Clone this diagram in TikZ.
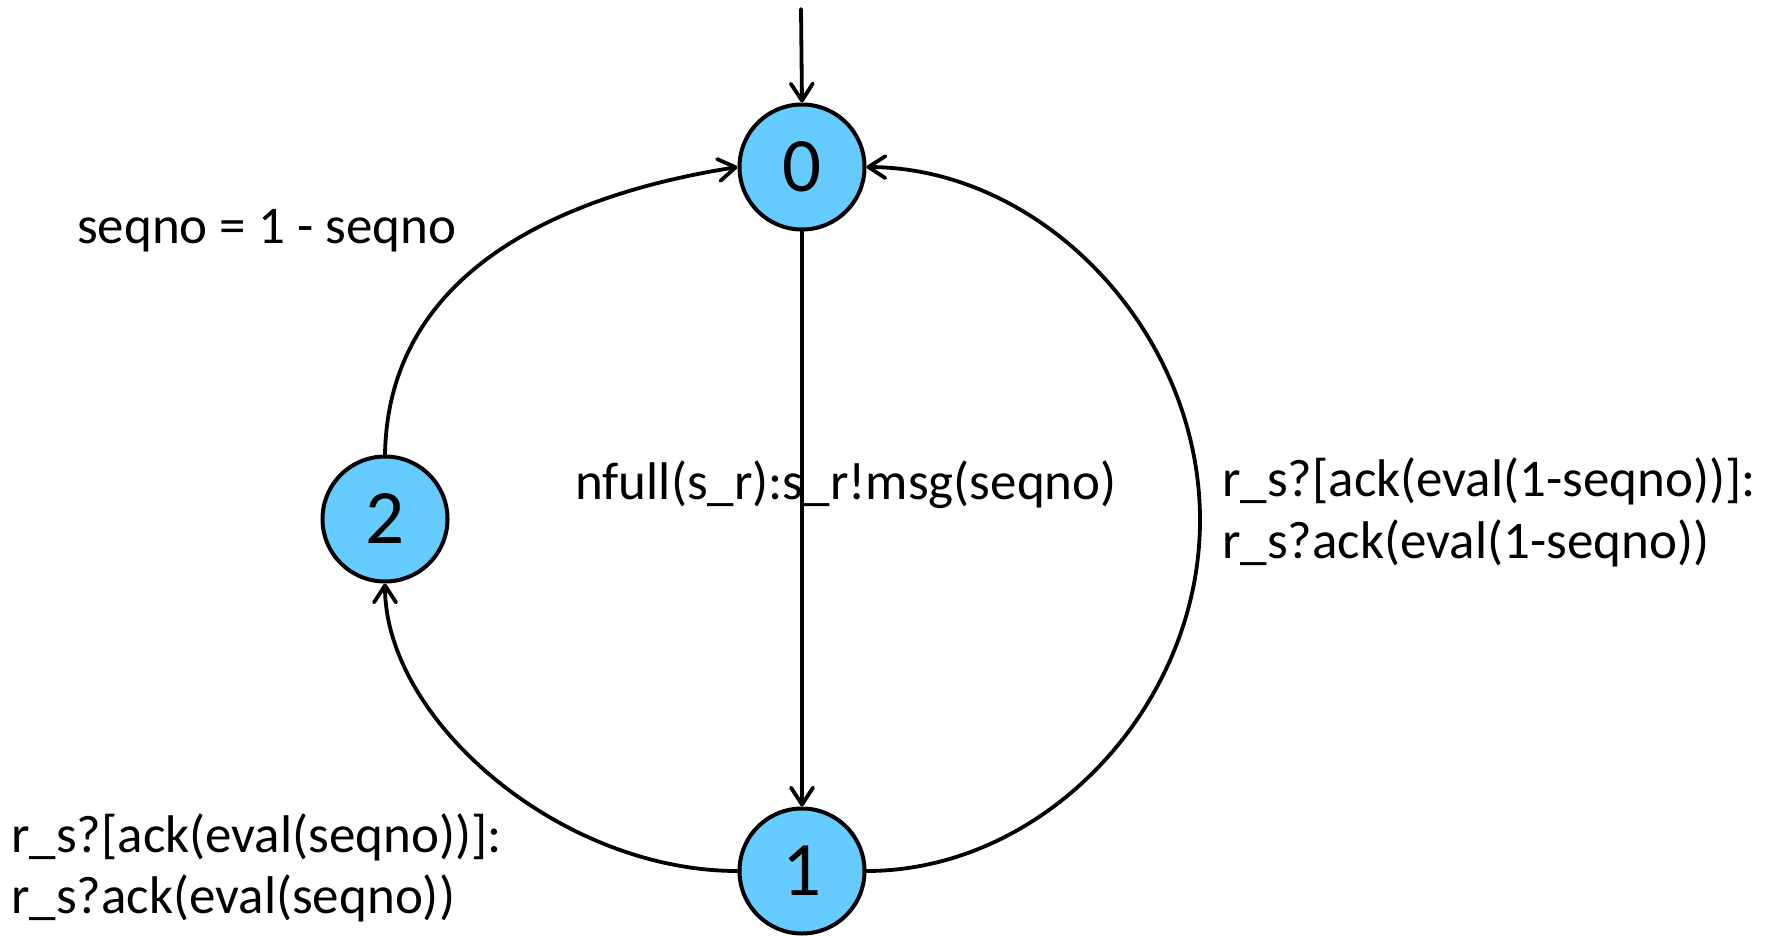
\documentclass[tikz,border=0pt]{standalone}
\usepackage{fontspec}
\setmainfont{Carlito}
\usetikzlibrary{arrows.meta}

\definecolor{statefill}{RGB}{102,204,255}

\tikzset{
  state/.style={circle, draw=black, fill=statefill, line width=4pt,
    minimum size=125pt, inner sep=0pt, font=\fontsize{77}{77}\selectfont},
  trans/.style={line width=3.8pt, line cap=round, line join=round,
    -{Straight Barb[length=17pt,width=22pt,line cap=round,line join=round]}},
  lbl/.style={inner sep=0pt, align=left, font=\fontsize{53}{62}\selectfont}
}

\begin{document}
\begin{tikzpicture}[x=1pt,y=-1pt]
  \useasboundingbox (0,0) rectangle (1766,936);

  % states
  \node[state] (n0) at (802,167) {0};
  \node[state] (n2) at (385,519) {2};
  \node[state] (n1) at (802,871) {1};

  % initial arrow
  \coordinate (init) at (801,9);
  \draw[trans] (init) -- (n0.north);

  % transitions
  \draw[trans] (n0.south) -- (n1.north);
  \draw[trans] (n2.north) .. controls (388,272) and (560,195) .. (n0.west);
  \draw[trans] (n1.west) .. controls (560,871) and (385,720) .. (n2.south);
  \coordinate (rmid) at (1200,520);
  \draw[trans] (n1.east) .. controls (1044,871) and (1200,707) .. (rmid)
                         .. controls (1200,333) and (1044,168) .. (n0.east);

  % labels
  \node[lbl, anchor=base west] (l20) at (77,243) {seqno = 1 - seqno};
  \node[lbl, anchor=base west] (l01) at (575,499) {nfull(s\_r):s\_r!msg(seqno)};
  \node[lbl, anchor=base west] (l10a) at (1222,496) {r\_s?[ack(eval(1-seqno))]:};
  \node[lbl, anchor=base west] (l10b) at (1222,558) {r\_s?ack(eval(1-seqno))};
  \node[lbl, anchor=base west] (l12a) at (11,852) {r\_s?[ack(eval(seqno))]:};
  \node[lbl, anchor=base west] (l12b) at (11,913) {r\_s?ack(eval(seqno))};
\end{tikzpicture}
\end{document}
